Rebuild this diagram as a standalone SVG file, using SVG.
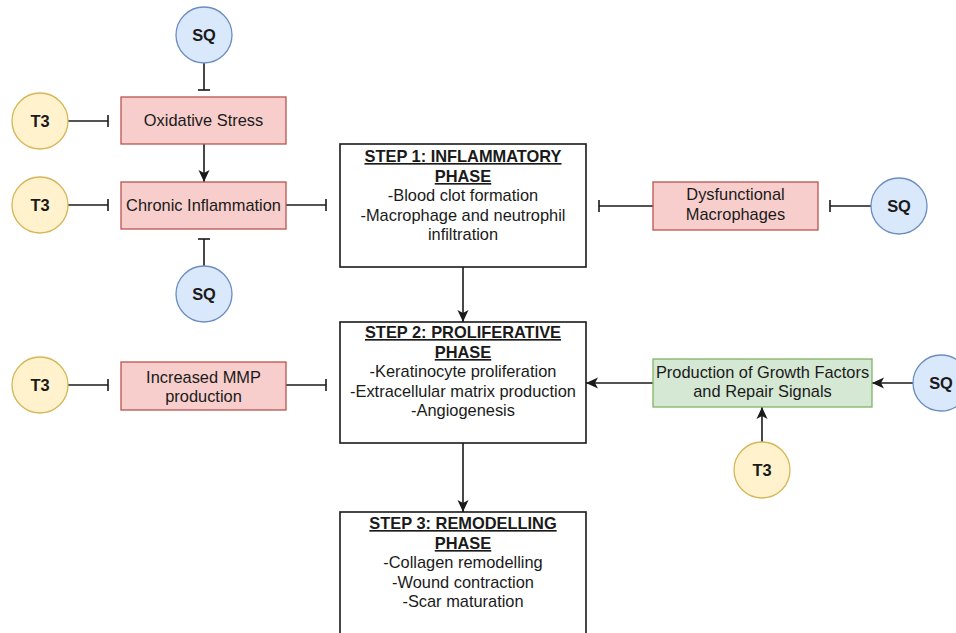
<svg xmlns="http://www.w3.org/2000/svg" width="956" height="633" viewBox="0 0 956 633">
<defs>
<style>
text{font-family:"Liberation Sans",Arial,sans-serif;font-size:16.4px;fill:#1a1a1a;text-anchor:middle}
.b{font-weight:bold}
.u{font-weight:bold;text-decoration:underline}
.pink{fill:#f8cecc;stroke:#b85450;stroke-width:1.3}
.green{fill:#d5e8d4;stroke:#82b366;stroke-width:1.3}
.blue{fill:#dae8fc;stroke:#6c8ebf;stroke-width:1.3}
.yel{fill:#fff2cc;stroke:#d6b656;stroke-width:1.3}
.step{fill:#fff;stroke:#1a1a1a;stroke-width:1.6}
.c{fill:none;stroke:#1a1a1a;stroke-width:1.6}
.a{marker-end:url(#arr)}
.t{marker-end:url(#tee)}
</style>
<marker id="arr" viewBox="0 0 12 12" refX="12" refY="6" markerWidth="12" markerHeight="12" markerUnits="userSpaceOnUse" orient="auto">
<path d="M0,0.5 L12,6 L0,11.5 L3,6 z" fill="#1a1a1a"/>
</marker>
<marker id="tee" viewBox="0 -7 2 14" refX="1" refY="0" markerWidth="2" markerHeight="14" markerUnits="userSpaceOnUse" orient="auto">
<path d="M1,-6 V6" stroke="#1a1a1a" stroke-width="1.6"/>
</marker>
</defs>
<rect width="956" height="633" fill="#fff"/>

<g id="connectors">
<line class="c t" x1="204" y1="63" x2="204" y2="90"/>
<line class="c t" x1="67" y1="121" x2="108" y2="121"/>
<line class="c a" x1="204" y1="144" x2="204" y2="182"/>
<line class="c t" x1="67" y1="205" x2="108" y2="205"/>
<line class="c t" x1="286" y1="205" x2="326" y2="205"/>
<line class="c t" x1="204" y1="266" x2="204" y2="239"/>
<line class="c t" x1="653" y1="206" x2="599" y2="206"/>
<line class="c t" x1="871" y1="206" x2="830" y2="206"/>
<line class="c a" x1="463" y1="267" x2="463" y2="322"/>
<line class="c a" x1="463" y1="443" x2="463" y2="512"/>
<line class="c t" x1="67" y1="385" x2="108" y2="385"/>
<line class="c t" x1="286" y1="385" x2="326" y2="385"/>
<line class="c a" x1="653" y1="383" x2="586" y2="383"/>
<line class="c a" x1="913" y1="383" x2="872" y2="383"/>
<line class="c a" x1="762" y1="442" x2="762" y2="407"/>
</g>

<g id="sq-top"><circle class="blue" cx="204" cy="35" r="28"/><text class="b" x="204" y="41">SQ</text></g>
<g id="t3-oxidative"><circle class="yel" cx="40" cy="121" r="28"/><text class="b" x="40" y="127">T3</text></g>
<g id="oxidative-stress"><rect class="pink" x="121" y="97" width="165" height="47"/><text x="203.5" y="126">Oxidative Stress</text></g>
<g id="t3-chronic"><circle class="yel" cx="40" cy="205" r="28"/><text class="b" x="40" y="211">T3</text></g>
<g id="chronic-inflammation"><rect class="pink" x="121" y="182" width="165" height="47"/><text x="203.5" y="211">Chronic Inflammation</text></g>
<g id="sq-chronic"><circle class="blue" cx="204" cy="294" r="28"/><text class="b" x="204" y="300">SQ</text></g>

<g id="step1"><rect class="step" x="340" y="144" width="246" height="123"/>
<text class="u" x="463" y="162">STEP 1: INFLAMMATORY</text>
<text class="u" x="463" y="182">PHASE</text>
<text x="463" y="201">-Blood clot formation</text>
<text x="463" y="221">-Macrophage and neutrophil</text>
<text x="463" y="240">infiltration</text></g>

<g id="dysfunctional-macrophages"><rect class="pink" x="653" y="182" width="165" height="48"/>
<text x="735.5" y="200">Dysfunctional</text><text x="735.5" y="220">Macrophages</text></g>
<g id="sq-macrophages"><circle class="blue" cx="899" cy="206" r="28"/><text class="b" x="899" y="212">SQ</text></g>

<g id="step2"><rect class="step" x="340" y="322" width="246" height="121"/>
<text class="u" x="463" y="338">STEP 2: PROLIFERATIVE</text>
<text class="u" x="463" y="358">PHASE</text>
<text x="463" y="377">-Keratinocyte proliferation</text>
<text x="463" y="397">-Extracellular matrix production</text>
<text x="463" y="416">-Angiogenesis</text></g>

<g id="t3-mmp"><circle class="yel" cx="40" cy="385" r="28"/><text class="b" x="40" y="391">T3</text></g>
<g id="increased-mmp"><rect class="pink" x="121" y="362" width="165" height="48"/>
<text x="203.5" y="383">Increased MMP</text><text x="203.5" y="402">production</text></g>

<g id="growth-factors"><rect class="green" x="653" y="359" width="219" height="48"/>
<text x="762.5" y="378">Production of Growth Factors</text><text x="762.5" y="397">and Repair Signals</text></g>
<g id="sq-growth"><circle class="blue" cx="941" cy="383" r="28"/><text class="b" x="941" y="389">SQ</text></g>
<g id="t3-growth"><circle class="yel" cx="762" cy="470" r="28"/><text class="b" x="762" y="476">T3</text></g>

<g id="step3"><rect class="step" x="340" y="512" width="246" height="130"/>
<text class="u" x="463" y="529">STEP 3: REMODELLING</text>
<text class="u" x="463" y="549">PHASE</text>
<text x="463" y="568">-Collagen remodelling</text>
<text x="463" y="588">-Wound contraction</text>
<text x="463" y="607">-Scar maturation</text></g>
</svg>
